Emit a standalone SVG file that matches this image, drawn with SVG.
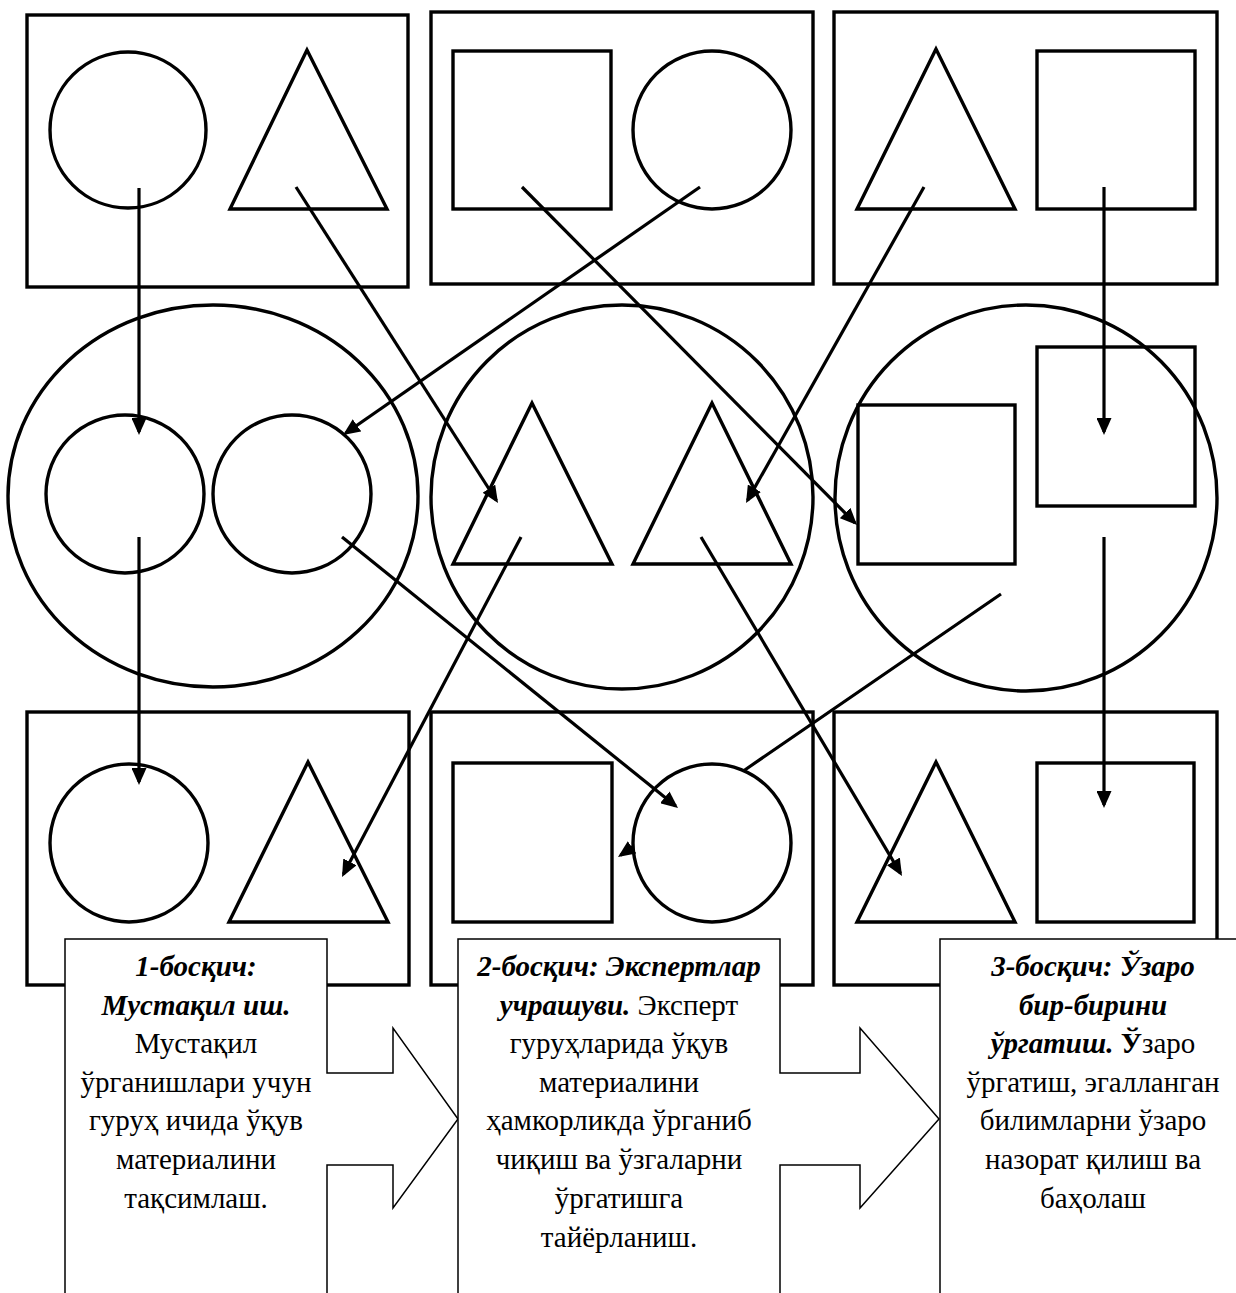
<svg xmlns="http://www.w3.org/2000/svg" width="1236" height="1293" viewBox="0 0 1236 1293">
<style>
.s{fill:none;stroke:#000;stroke-width:3.4}
.c{stroke:#000;stroke-width:3.2;fill:none}
.co{fill:#fff;stroke:#000;stroke-width:1.5}
.t{font-family:"Liberation Serif","Times New Roman",serif;font-size:29px;fill:#000;text-anchor:middle}
.bi{font-weight:bold;font-style:italic}
.b{font-weight:bold}
</style>
<defs>
<marker id="ah" markerUnits="userSpaceOnUse" markerWidth="17" markerHeight="15" viewBox="0 0 17 15" refX="14" refY="7.5" orient="auto">
<path d="M0,0 L17,7.5 L0,15 z" fill="#000"/>
</marker>
</defs>
<rect width="1236" height="1293" fill="#fff"/>
<g id="top-1"><rect class="s" x="27" y="15" width="381" height="272"/><circle class="s" cx="128" cy="130" r="78"/><polygon class="s" points="307,50 230,209 387,209"/></g>
<g id="top-2"><rect class="s" x="431" y="12" width="382" height="272"/><rect class="s" x="453" y="51" width="158" height="158"/><circle class="s" cx="712" cy="130" r="79"/></g>
<g id="top-3"><rect class="s" x="834" y="12" width="383" height="272"/><polygon class="s" points="936,49 857,209 1015,209"/><rect class="s" x="1037" y="51" width="158" height="158"/></g>
<g id="mid-1"><ellipse class="s" cx="213" cy="496" rx="205" ry="191"/><circle class="s" cx="125" cy="494" r="79"/><circle class="s" cx="292" cy="494" r="79"/></g>
<g id="mid-2"><ellipse class="s" cx="622" cy="497" rx="191" ry="192"/><polygon class="s" points="532,403 453,564 612,564"/><polygon class="s" points="712,403 633,564 791,564"/></g>
<g id="mid-3"><ellipse class="s" cx="1026" cy="498" rx="191" ry="193"/><rect class="s" x="858" y="405" width="157" height="159"/><rect class="s" x="1037" y="347" width="158" height="159"/></g>
<g id="bot-1"><rect class="s" x="27" y="712" width="382" height="273"/><circle class="s" cx="129" cy="843" r="79"/><polygon class="s" points="308,762 229,922 388,922"/></g>
<g id="bot-2"><rect class="s" x="431" y="712" width="382" height="273"/><rect class="s" x="453" y="763" width="159" height="159"/><circle class="s" cx="712" cy="843" r="79"/></g>
<g id="bot-3"><rect class="s" x="834" y="712" width="383" height="273"/><polygon class="s" points="936,762 857,922 1015,922"/><rect class="s" x="1037" y="763" width="157" height="159"/></g>
<g id="connectors">
<line class="c" x1="139" y1="188" x2="139" y2="432" marker-end="url(#ah)"/>
<line class="c" x1="139" y1="537" x2="139" y2="782" marker-end="url(#ah)"/>
<line class="c" x1="296" y1="187" x2="496.4" y2="500.5" marker-end="url(#ah)"/>
<line class="c" x1="700" y1="187" x2="345.5" y2="433.3" marker-end="url(#ah)"/>
<line class="c" x1="522" y1="187" x2="854.9" y2="522.9" marker-end="url(#ah)"/>
<line class="c" x1="924" y1="187" x2="747.5" y2="500.4" marker-end="url(#ah)"/>
<line class="c" x1="1104" y1="187" x2="1104" y2="432" marker-end="url(#ah)"/>
<line class="c" x1="342" y1="537" x2="675.7" y2="806.1" marker-end="url(#ah)"/>
<line class="c" x1="521" y1="537" x2="343.4" y2="874.3" marker-end="url(#ah)"/>
<line class="c" x1="701" y1="537" x2="900.5" y2="873.4" marker-end="url(#ah)"/>
<path class="c" d="M1001,594 L743.7,770.7 M633.1,846.6 L620.5,855.3" marker-end="url(#ah)"/>
<line class="c" x1="1104" y1="537" x2="1104" y2="805" marker-end="url(#ah)"/>
</g>
<g id="stage-1">
<path class="co" d="M65,1300 V939 H327 V1073 H393 V1028 L458,1119 L393,1208 V1165 H327 V1300"/>
<text class="t" x="196" y="976"><tspan class="bi">1-босқич:</tspan></text>
<text class="t" x="196" y="1015"><tspan class="bi">Мустақил иш.</tspan></text>
<text class="t" x="196" y="1053">Мустақил</text>
<text class="t" x="196" y="1092">ўрганишлари учун</text>
<text class="t" x="196" y="1130">гуруҳ ичида ўқув</text>
<text class="t" x="196" y="1169">материалини</text>
<text class="t" x="196" y="1208">тақсимлаш.</text>
</g>
<g id="stage-2">
<path class="co" d="M458,1300 V939 H780 V1073 H860 V1028 L939,1119 L860,1208 V1165 H780 V1300"/>
<text class="t" x="619" y="976"><tspan class="bi">2-босқич: Экспертлар</tspan></text>
<text class="t" x="619" y="1015"><tspan class="bi">учрашуви.</tspan> Эксперт</text>
<text class="t" x="619" y="1053">гуруҳларида ўқув</text>
<text class="t" x="619" y="1092">материалини</text>
<text class="t" x="619" y="1130">ҳамкорликда ўрганиб</text>
<text class="t" x="619" y="1169">чиқиш ва ўзгаларни</text>
<text class="t" x="619" y="1208">ўргатишга</text>
<text class="t" x="619" y="1247">тайёрланиш.</text>
</g>
<g id="stage-3">
<path class="co" d="M940,1300 V939 H1245 V1300"/>
<text class="t" x="1093" y="976"><tspan class="bi">3-босқич: Ўзаро</tspan></text>
<text class="t" x="1093" y="1015"><tspan class="bi">бир-бирини</tspan></text>
<text class="t" x="1093" y="1053"><tspan class="bi">ўргатиш.</tspan> <tspan class="b">Ў</tspan>заро</text>
<text class="t" x="1093" y="1092">ўргатиш, эгалланган</text>
<text class="t" x="1093" y="1130">билимларни ўзаро</text>
<text class="t" x="1093" y="1169">назорат қилиш ва</text>
<text class="t" x="1093" y="1208">баҳолаш</text>
</g>
</svg>
